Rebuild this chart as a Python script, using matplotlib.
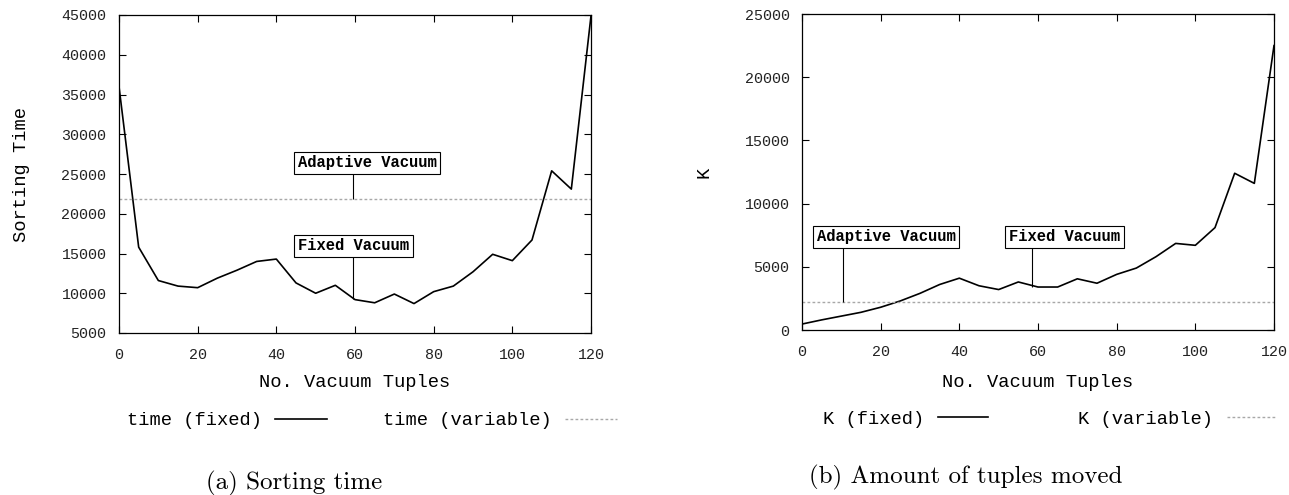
import matplotlib.pyplot as plt

# data
vacuum_tuples = [0, 5, 10, 15, 20, 25, 30, 35, 40, 45, 50, 55, 60,
                 65, 70, 75, 80, 85, 90, 95, 100, 105, 110, 115, 120]
time_fixed = [36000, 15800, 11600, 10900, 10700, 11900, 12900, 14000, 14300,
              11300, 10000, 11000, 9200, 8800, 9900, 8700, 10200, 10900,
              12700, 14900, 14100, 16700, 25400, 23100, 44900]
time_variable = 21800
k_fixed = [470, 800, 1100, 1400, 1800, 2300, 2900, 3600, 4100, 3500, 3200,
           3800, 3400, 3400, 4050, 3700, 4400, 4900, 5800, 6850, 6700, 8100,
           12400, 11600, 22500]
k_variable = 2200

time_yticks = [5000, 10000, 15000, 20000, 25000, 30000, 35000, 40000, 45000]
k_yticks = [0, 5000, 10000, 15000, 20000, 25000]
xticks = [0, 20, 40, 60, 80, 100, 120]

mono = 'Liberation Mono'
W, H = 1289, 495

fig = plt.figure(figsize=(W / 100, H / 100), dpi=100)
ax1 = fig.add_axes([119 / W, 1 - 333 / H, 472 / W, 318 / H])
ax2 = fig.add_axes([802 / W, 1 - 330 / H, 472 / W, 316 / H])


def style_axis(ax, yticks):
    ax.set_xlim(0, 120)
    ax.set_ylim(yticks[0], yticks[-1])
    ax.set_xticks(xticks)
    ax.set_yticks(yticks)
    ax.tick_params(direction='in', top=True, right=True, length=5, width=0.8,
                   labelsize=10.8, labelcolor='#222222', pad=9)
    ax.tick_params(axis='x', pad=11)
    for lab in ax.get_xticklabels() + ax.get_yticklabels():
        lab.set_fontfamily(mono)
    for s in ax.spines.values():
        s.set_linewidth(0.9)


def boxed_label(ax, x, y, text):
    ax.text(x, y, text, ha='left', va='center', fontfamily=mono,
            fontweight='bold', fontsize=11.2, zorder=5,
            bbox=dict(boxstyle='square,pad=0.24', fc='white', ec='black', lw=0.8))


dot = (0, (2, 1.6))

# (a) sorting time
ax1.plot(vacuum_tuples, time_fixed, color='black', lw=1.2, label='time (fixed)')
ax1.axhline(time_variable, color='#a8a8a8', lw=1.0, ls=dot, label='time (variable)')
style_axis(ax1, time_yticks)
ax1.set_xlabel('No. Vacuum Tuples', fontfamily=mono, fontsize=13.5)
ax1.set_ylabel('Sorting Time', fontfamily=mono, fontsize=13.5)
ax1.xaxis.set_label_coords(0.5, -0.128)
ax1.yaxis.set_label_coords(-0.189, 0.5)
boxed_label(ax1, 45.5, 26400, 'Adaptive Vacuum')
ax1.vlines(59.5, time_variable, 25150, color='black', lw=0.8)
boxed_label(ax1, 45.5, 15950, 'Fixed Vacuum')
ax1.vlines(59.5, 9300, 14700, color='black', lw=0.8)
ax1.legend(loc='center', bbox_to_anchor=(0.536, -0.276), ncol=2, markerfirst=False,
           frameon=False, prop={'family': mono, 'size': 13.5}, handlelength=2.77,
           handletextpad=0.7, columnspacing=3.0)

# (b) tuples moved
ax2.plot(vacuum_tuples, k_fixed, color='black', lw=1.2, label='K (fixed)')
ax2.axhline(k_variable, color='#a8a8a8', lw=1.0, ls=dot, label='K (variable)')
style_axis(ax2, k_yticks)
ax2.set_xlabel('No. Vacuum Tuples', fontfamily=mono, fontsize=13.5)
ax2.set_ylabel('K', fontfamily=mono, fontsize=13.5)
ax2.xaxis.set_label_coords(0.5, -0.138)
ax2.yaxis.set_label_coords(-0.189, 0.5)
boxed_label(ax2, 3.8, 7360, 'Adaptive Vacuum')
ax2.vlines(10.4, k_variable, 6650, color='black', lw=0.8)
boxed_label(ax2, 52.6, 7360, 'Fixed Vacuum')
ax2.vlines(58.5, 3400, 6650, color='black', lw=0.8)
ax2.legend(loc='center', bbox_to_anchor=(0.526, -0.282), ncol=2, markerfirst=False,
           frameon=False, prop={'family': mono, 'size': 13.5}, handlelength=2.7,
           handletextpad=0.7, columnspacing=4.8)

fig.text(294 / W, 1 - 483 / H, '(a) Sorting time', family='cmr10', fontsize=18,
         ha='center', va='center')
fig.text(966 / W, 1 - 477 / H, '(b) Amount of tuples moved', family='cmr10',
         fontsize=18, ha='center', va='center')

fig.savefig('out.png', dpi=100)
